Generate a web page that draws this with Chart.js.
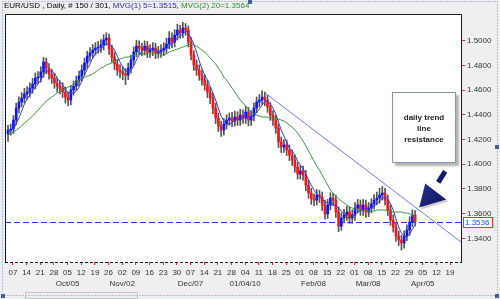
<!DOCTYPE html>
<html lang="en">
<head>
<meta charset="UTF-8">
<title>EUR/USD Daily</title>
<script src="https://cdn.jsdelivr.net/npm/chart.js@4.4.0/dist/chart.umd.min.js"></script>
<style>
  html, body { margin: 0; padding: 0; background: #efefef; }
  #wrap { position: relative; width: 500px; height: 299px; overflow: hidden; }
  #chart { position: absolute; left: 0; top: 0; }
  #title {
    position: absolute; left: 4px; top: 0px;
    font: 8px "Liberation Sans", Arial, sans-serif;
    line-height: 12px; white-space: nowrap; color: #000;
  }
  #title .m1 { color: #2a2ad0; }
  #title .m2 { color: #2f8f2f; }
  #note {
    position: absolute; left: 392px; top: 92px; width: 64px; height: 71px;
    box-sizing: border-box; background: #fff;
    border: 1px solid #8494b8;
    box-shadow: 3px 3px 2px rgba(0,0,0,0.3);
    font: bold 8px "Liberation Sans", Arial, sans-serif;
    color: #222; text-align: center;
    padding-top: 19px; line-height: 11px;
  }
</style>
</head>
<body>
<div id="wrap">
  <canvas id="chart" width="500" height="299"></canvas>
  <div id="title">EUR/USD , Daily, # 150 / 301, <span class="m1">MVG(1) 5=1.3515</span>, <span class="m2">MVG(2) 20=1.3564</span></div>
  <div id="note">daily trend<br>line<br>resistance</div>
</div>

<script>
  // daily candles (index 0 = first bar shown)
  const opens = [
    1.4245,1.4277,1.4285,1.4358,1.4455,1.4504,1.4536,1.4569,1.4585,1.4617,
    1.4650,1.4698,1.4706,1.4747,1.4828,1.4779,1.4731,1.4698,1.4658,1.4633,
    1.4617,1.4585,1.4544,1.4520,1.4601,1.4633,1.4674,1.4714,1.4763,1.4820,
    1.4876,1.4901,1.4925,1.4941,1.4949,1.4966,1.5006,1.5022,1.4933,1.4868,
    1.4812,1.4763,1.4747,1.4731,1.4722,1.4779,1.4844,1.4909,1.4957,1.4941,
    1.4925,1.4957,1.4909,1.4925,1.4941,1.4901,1.4909,1.4925,1.4941,1.4974,
    1.5022,1.4990,1.5046,1.5087,1.5063,1.5103,1.5087,1.4990,1.4885,1.4804,
    1.4763,1.4722,1.4682,1.4641,1.4585,1.4536,1.4455,1.4374,1.4309,1.4277,
    1.4326,1.4358,1.4374,1.4350,1.4382,1.4358,1.4398,1.4374,1.4423,1.4358,
    1.4390,1.4455,1.4504,1.4520,1.4544,1.4520,1.4463,1.4398,1.4358,1.4293,
    1.4180,1.4139,1.4156,1.4115,1.4074,1.4034,1.3977,1.3921,1.3945,1.3912,
    1.3831,1.3767,1.3718,1.3710,1.3750,1.3734,1.3670,1.3597,1.3670,1.3726,
    1.3710,1.3613,1.3499,1.3564,1.3589,1.3613,1.3564,1.3589,1.3645,1.3670,
    1.3629,1.3670,1.3613,1.3645,1.3678,1.3710,1.3726,1.3750,1.3767,1.3710,
    1.3629,1.3548,1.3491,1.3418,1.3386,1.3362,1.3418,1.3467,1.3532,1.3588
  ];
  const highs = [
    1.4315,1.4325,1.4395,1.4495,1.4545,1.4580,1.4615,1.4630,1.4660,1.4695,
    1.4740,1.4750,1.4790,1.4865,1.4860,1.4815,1.4770,1.4735,1.4700,1.4675,
    1.4660,1.4625,1.4585,1.4640,1.4675,1.4715,1.4755,1.4805,1.4860,1.4915,
    1.4945,1.4970,1.4985,1.4995,1.5010,1.5050,1.5065,1.5055,1.4965,1.4905,
    1.4850,1.4805,1.4790,1.4775,1.4820,1.4885,1.4950,1.5005,1.5000,1.4980,
    1.5000,1.4995,1.4970,1.4985,1.4980,1.4955,1.4970,1.4985,1.5020,1.5075,
    1.5065,1.5090,1.5135,1.5125,1.5150,1.5140,1.5120,1.5025,1.4920,1.4845,
    1.4805,1.4765,1.4725,1.4680,1.4625,1.4575,1.4495,1.4415,1.4350,1.4370,
    1.4400,1.4415,1.4420,1.4430,1.4425,1.4445,1.4440,1.4470,1.4460,1.4435,
    1.4495,1.4545,1.4565,1.4595,1.4585,1.4560,1.4500,1.4435,1.4395,1.4325,
    1.4220,1.4200,1.4195,1.4155,1.4115,1.4075,1.4015,1.3990,1.3985,1.3950,
    1.3870,1.3805,1.3760,1.3795,1.3790,1.3775,1.3710,1.3715,1.3770,1.3765,
    1.3750,1.3655,1.3605,1.3635,1.3660,1.3655,1.3630,1.3690,1.3715,1.3710,
    1.3715,1.3710,1.3690,1.3720,1.3755,1.3775,1.3805,1.3820,1.3805,1.3750,
    1.3670,1.3590,1.3530,1.3460,1.3425,1.3460,1.3510,1.3575,1.3630,1.3625
  ];
  const lows = [
    1.4185,1.4235,1.4250,1.4320,1.4415,1.4465,1.4495,1.4525,1.4545,1.4575,
    1.4610,1.4655,1.4665,1.4705,1.4735,1.4690,1.4655,1.4615,1.4585,1.4570,
    1.4540,1.4495,1.4475,1.4480,1.4560,1.4595,1.4635,1.4675,1.4725,1.4780,
    1.4835,1.4860,1.4885,1.4900,1.4905,1.4925,1.4965,1.4890,1.4825,1.4765,
    1.4720,1.4700,1.4685,1.4645,1.4685,1.4740,1.4805,1.4870,1.4895,1.4880,
    1.4885,1.4865,1.4865,1.4880,1.4855,1.4860,1.4865,1.4880,1.4900,1.4935,
    1.4945,1.4950,1.5005,1.5020,1.5025,1.5045,1.4950,1.4845,1.4760,1.4720,
    1.4680,1.4640,1.4600,1.4540,1.4490,1.4410,1.4330,1.4265,1.4225,1.4235,
    1.4285,1.4315,1.4305,1.4310,1.4315,1.4315,1.4330,1.4330,1.4310,1.4315,
    1.4350,1.4415,1.4465,1.4480,1.4475,1.4420,1.4355,1.4315,1.4250,1.4135,
    1.4095,1.4095,1.4070,1.4030,1.3990,1.3935,1.3880,1.3880,1.3870,1.3785,
    1.3725,1.3675,1.3665,1.3670,1.3690,1.3625,1.3555,1.3560,1.3630,1.3665,
    1.3570,1.3455,1.3465,1.3525,1.3545,1.3520,1.3520,1.3545,1.3605,1.3585,
    1.3585,1.3570,1.3575,1.3605,1.3635,1.3670,1.3685,1.3710,1.3670,1.3585,
    1.3505,1.3450,1.3375,1.3340,1.3305,1.3320,1.3380,1.3425,1.3495,1.3500
  ];
  const closes = [
    1.4277,1.4285,1.4358,1.4455,1.4504,1.4536,1.4569,1.4585,1.4617,1.4650,
    1.4698,1.4706,1.4747,1.4828,1.4779,1.4731,1.4698,1.4658,1.4633,1.4617,
    1.4585,1.4544,1.4520,1.4601,1.4633,1.4674,1.4714,1.4763,1.4820,1.4876,
    1.4901,1.4925,1.4941,1.4949,1.4966,1.5006,1.5022,1.4933,1.4868,1.4812,
    1.4763,1.4747,1.4731,1.4722,1.4779,1.4844,1.4909,1.4957,1.4941,1.4925,
    1.4957,1.4909,1.4925,1.4941,1.4901,1.4909,1.4925,1.4941,1.4974,1.5022,
    1.4990,1.5046,1.5087,1.5063,1.5103,1.5087,1.4990,1.4885,1.4804,1.4763,
    1.4722,1.4682,1.4641,1.4585,1.4536,1.4455,1.4374,1.4309,1.4277,1.4326,
    1.4358,1.4374,1.4350,1.4382,1.4358,1.4398,1.4374,1.4423,1.4358,1.4390,
    1.4455,1.4504,1.4520,1.4544,1.4520,1.4463,1.4398,1.4358,1.4293,1.4180,
    1.4139,1.4156,1.4115,1.4074,1.4034,1.3977,1.3921,1.3945,1.3912,1.3831,
    1.3767,1.3718,1.3710,1.3750,1.3734,1.3670,1.3597,1.3670,1.3726,1.3710,
    1.3613,1.3499,1.3564,1.3589,1.3613,1.3564,1.3589,1.3645,1.3670,1.3629,
    1.3670,1.3613,1.3645,1.3678,1.3710,1.3726,1.3750,1.3767,1.3710,1.3629,
    1.3548,1.3491,1.3418,1.3386,1.3362,1.3418,1.3467,1.3532,1.3588,1.3536
  ];

  // MVG(1) 5 and MVG(2) 20
  const ma5 = [
    1.4261,1.4269,1.4285,1.4326,1.4374,1.4431,1.4488,1.4528,1.4560,1.4593,
    1.4625,1.4650,1.4682,1.4722,1.4755,1.4755,1.4755,1.4739,1.4698,1.4666,
    1.4641,1.4609,1.4577,1.4577,1.4577,1.4593,1.4625,1.4674,1.4722,1.4771,
    1.4812,1.4860,1.4893,1.4917,1.4933,1.4957,1.4974,1.4974,1.4957,1.4925,
    1.4876,1.4828,1.4787,1.4755,1.4747,1.4763,1.4795,1.4844,1.4885,1.4917,
    1.4941,1.4941,1.4933,1.4933,1.4925,1.4917,1.4917,1.4925,1.4933,1.4957,
    1.4974,1.4998,1.5022,1.5038,1.5055,1.5079,1.5063,1.5022,1.4974,1.4909,
    1.4836,1.4771,1.4722,1.4682,1.4633,1.4577,1.4520,1.4455,1.4390,1.4350,
    1.4326,1.4326,1.4334,1.4358,1.4366,1.4374,1.4374,1.4390,1.4382,1.4390,
    1.4398,1.4423,1.4447,1.4480,1.4512,1.4512,1.4488,1.4455,1.4407,1.4342,
    1.4277,1.4228,1.4180,1.4131,1.4107,1.4074,1.4026,1.3993,1.3961,1.3921,
    1.3872,1.3831,1.3791,1.3759,1.3734,1.3718,1.3694,1.3686,1.3678,1.3678,
    1.3661,1.3645,1.3621,1.3597,1.3572,1.3564,1.3580,1.3597,1.3613,1.3621,
    1.3637,1.3645,1.3645,1.3645,1.3661,1.3678,1.3702,1.3726,1.3734,1.3718,
    1.3678,1.3629,1.3556,1.3491,1.3443,1.3418,1.3410,1.3434,1.3475,1.3507
  ];
  const ma20 = [
    1.4236,1.4245,1.4261,1.4277,1.4293,1.4309,1.4334,1.4350,1.4374,1.4390,
    1.4415,1.4439,1.4463,1.4488,1.4512,1.4528,1.4544,1.4560,1.4577,1.4585,
    1.4601,1.4609,1.4625,1.4633,1.4650,1.4666,1.4682,1.4698,1.4706,1.4714,
    1.4722,1.4731,1.4747,1.4763,1.4779,1.4787,1.4804,1.4812,1.4820,1.4828,
    1.4844,1.4852,1.4860,1.4868,1.4868,1.4876,1.4885,1.4885,1.4893,1.4893,
    1.4893,1.4901,1.4901,1.4901,1.4901,1.4893,1.4893,1.4885,1.4893,1.4909,
    1.4917,1.4925,1.4933,1.4941,1.4949,1.4957,1.4965,1.4974,1.4965,1.4957,
    1.4941,1.4925,1.4909,1.4885,1.4860,1.4836,1.4812,1.4779,1.4747,1.4706,
    1.4682,1.4650,1.4617,1.4585,1.4552,1.4520,1.4496,1.4471,1.4447,1.4423,
    1.4407,1.4398,1.4390,1.4382,1.4382,1.4382,1.4374,1.4374,1.4374,1.4366,
    1.4358,1.4350,1.4334,1.4317,1.4301,1.4277,1.4253,1.4220,1.4188,1.4147,
    1.4107,1.4066,1.4026,1.3985,1.3953,1.3912,1.3872,1.3831,1.3791,1.3767,
    1.3742,1.3718,1.3702,1.3686,1.3670,1.3653,1.3645,1.3637,1.3629,1.3629,
    1.3621,1.3621,1.3621,1.3621,1.3621,1.3629,1.3629,1.3629,1.3629,1.3621,
    1.3621,1.3613,1.3613,1.3613,1.3613,1.3605,1.3605,1.3597,1.3580,1.3564
  ];

  // weekly date ticks (position in bar units)
  const tickPos = [1.8, 6.8, 11.8, 16.8, 21.8, 26.8, 31.8, 36.8, 41.8, 46.8, 51.8,
    56.8, 61.8, 66.8, 71.8, 76.8, 81.8, 86.8, 91.8, 96.8, 101.8, 106.8, 111.8,
    116.8, 121.8, 126.8, 131.8, 136.8, 141.8, 146.8, 151.8, 156.8, 161.8];
  const dayLabels = ['07','14','21','28','05','12','19','26','02','09','16','23','30',
    '07','14','21','28','04','11','18','25','01','08','15','22','01','08','15','22',
    '29','05','12','19'];
  const monthLabels = ['','','','','Oct/05','','','','Nov/02','','','','','Dec/07',
    '','','','01/04/10','','','','','Feb/08','','','','Mar/08','','','','Apr/05','',''];
  const yTicks = [1.34, 1.36, 1.38, 1.40, 1.42, 1.44, 1.46, 1.48, 1.50];

  const lastPrice = 1.3536;
  const trendX = [94.1, 165.8];
  const trendY = [1.4577, 1.3370];

  const xMin = -1.1, xMax = 165.8;
  const yMin = 1.3208, yMax = 1.5217;

  const FONT = '"Liberation Sans", Arial, sans-serif';
  Chart.defaults.font.family = FONT;

  const decor = {
    id: 'decor',
    beforeDraw(chart) {
      const { ctx, chartArea: a } = chart;
      ctx.save();
      ctx.fillStyle = '#efefef';
      ctx.fillRect(0, 0, chart.width, chart.height);
      ctx.fillStyle = '#ffffff';
      ctx.fillRect(a.left, a.top, a.right - a.left, a.bottom - a.top);
      ctx.restore();
    },
    beforeDatasetsDraw(chart) {
      // dashed line at the last price, snapped to a pixel row
      const { ctx, chartArea: a, scales } = chart;
      const py = Math.round(scales.y.getPixelForValue(lastPrice)) + 0.5;
      ctx.save();
      ctx.strokeStyle = '#2233ff';
      ctx.lineWidth = 1;
      ctx.setLineDash([6, 3]);
      ctx.beginPath();
      ctx.moveTo(a.left, py);
      ctx.lineTo(a.right, py);
      ctx.stroke();
      ctx.restore();
    },
    afterDraw(chart) {
      const { ctx, chartArea: a, scales } = chart;
      ctx.save();
      // plot frame
      ctx.strokeStyle = '#1a1a1a';
      ctx.lineWidth = 1;
      ctx.beginPath();
      ctx.moveTo(a.left + 0.5, a.bottom);
      ctx.lineTo(a.left + 0.5, a.top + 0.5);
      ctx.lineTo(a.right + 0.5, a.top + 0.5);
      ctx.lineTo(a.right + 0.5, a.bottom);
      ctx.stroke();
      ctx.setLineDash([3, 2]);
      ctx.beginPath();
      ctx.moveTo(a.left, a.bottom + 0.5);
      ctx.lineTo(a.right + 1, a.bottom + 0.5);
      ctx.stroke();
      ctx.setLineDash([]);

      // last price tag
      const py = Math.round(scales.y.getPixelForValue(lastPrice));
      ctx.fillStyle = '#fff';
      ctx.fillRect(a.right + 2, py - 5, 30, 10);
      ctx.strokeStyle = '#ff3030';
      ctx.strokeRect(a.right + 2.5, py - 4.5, 29, 10);
      ctx.fillStyle = '#2d3cff';
      ctx.font = '8px ' + FONT;
      ctx.textBaseline = 'middle';
      ctx.fillText(lastPrice.toFixed(4), a.right + 4, py + 0.5);

      // arrow pointing at the touch on the trend line
      const tx = scales.x.getPixelForValue(150.5);
      const ty = scales.y.getPixelForValue(1.3650);
      ctx.fillStyle = 'rgba(0,0,0,0.18)';
      ctx.beginPath();
      ctx.moveTo(tx + 2, ty + 2);
      ctx.lineTo(tx + 8, ty - 22);
      ctx.lineTo(tx + 29, ty - 6);
      ctx.closePath();
      ctx.fill();
      const g = ctx.createLinearGradient(tx, ty - 24, tx + 26, ty);
      g.addColorStop(0, '#2a3590');
      g.addColorStop(1, '#0b145e');
      ctx.fillStyle = g;
      ctx.beginPath();
      ctx.moveTo(tx, ty);
      ctx.lineTo(tx + 6, ty - 24);
      ctx.lineTo(tx + 27, ty - 8);
      ctx.closePath();
      ctx.fill();
      ctx.strokeStyle = '#101a6a';
      ctx.lineWidth = 5;
      ctx.beginPath();
      ctx.moveTo(tx + 19, ty - 25);
      ctx.lineTo(tx + 26, ty - 36);
      ctx.stroke();

      // selection frame of the picture
      ctx.lineWidth = 1;
      ctx.strokeStyle = '#6f8fd8';
      ctx.setLineDash([1, 2]);
      ctx.strokeRect(2.5, 1.5, 495, 294);
      ctx.setLineDash([]);
      ctx.strokeStyle = '#c4c4c4';
      ctx.strokeRect(25.5, 292.5, 112, 6);
      ctx.fillStyle = '#3d5fb0';
      [[1, 294], [495, 294], [495, 145], [248, 0]].forEach(([hx, hy]) => ctx.fillRect(hx, hy, 4, 4));
      ctx.restore();
    }
  };

  new Chart(document.getElementById('chart'), {
    type: 'bar',
    data: {
      datasets: [
        {
          type: 'line', label: 'trend',
          data: trendX.map((x, i) => ({ x: x, y: trendY[i] })),
          borderColor: '#6b7cf2', borderWidth: 1, pointRadius: 0, order: 0
        },
        {
          type: 'line', label: 'MVG(1) 5',
          data: ma5.map((v, i) => ({ x: i, y: v })),
          borderColor: '#3a3af2', borderWidth: 1, pointRadius: 0, order: 1
        },
        {
          type: 'line', label: 'MVG(2) 20',
          data: ma20.map((v, i) => ({ x: i, y: v })),
          borderColor: '#3f983f', borderWidth: 1, pointRadius: 0, order: 1
        },
        {
          type: 'bar', label: 'body',
          data: closes.map((c, i) => ({ x: i, y: [opens[i], c] })),
          backgroundColor: closes.map((c, i) => c >= opens[i] ? '#0a16ff' : '#ff1212'),
          barThickness: 2, minBarLength: 1, grouped: false, order: 2
        },
        {
          type: 'bar', label: 'wick',
          data: closes.map((c, i) => ({ x: i, y: [lows[i], highs[i]] })),
          backgroundColor: '#555555',
          barThickness: 1, grouped: false, order: 3
        }
      ]
    },
    options: {
      responsive: false,
      animation: false,
      layout: { padding: { left: 5, top: 14, right: 0, bottom: 0 } },
      plugins: { legend: { display: false }, tooltip: { enabled: false } },
      scales: {
        x: {
          type: 'linear', min: xMin, max: xMax, offset: false,
          afterBuildTicks: s => { s.ticks = tickPos.map(v => ({ value: v })); },
          afterFit: s => { s.height = 37; },
          grid: { display: true, drawOnChartArea: false, drawTicks: true, tickLength: 3, color: '#f03030', offset: false },
          border: { display: false },
          ticks: {
            autoSkip: false, maxRotation: 0, padding: 2, color: '#333',
            font: { size: 8, lineHeight: 1.4 },
            callback: (v, i) => monthLabels[i] ? [dayLabels[i], monthLabels[i]] : dayLabels[i]
          }
        },
        y: {
          position: 'right', min: yMin, max: yMax,
          afterBuildTicks: s => { s.ticks = yTicks.map(v => ({ value: v })); },
          afterFit: s => { s.width = 39; },
          grid: { display: true, drawOnChartArea: false, drawTicks: true, tickLength: 4, color: '#f03030' },
          border: { display: false },
          ticks: { padding: 2, color: '#333', font: { size: 8 }, callback: v => v.toFixed(4) }
        }
      }
    },
    plugins: [decor]
  });
</script>
</body>
</html>
